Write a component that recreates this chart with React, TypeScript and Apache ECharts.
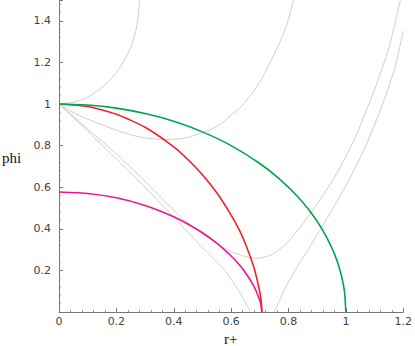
import React, { useEffect, useRef } from "react";
import * as echarts from "echarts";

const xTicks = [0, 0.2, 0.4, 0.6, 0.8, 1, 1.2];
const yTicks = [0.2, 0.4, 0.6, 0.8, 1, 1.2, 1.4];

const greenCurve: number[][] = [
  [0, 1], [0.1, 0.995], [0.2, 0.98], [0.3, 0.954], [0.4, 0.917], [0.5, 0.866],
  [0.6, 0.8], [0.7, 0.714], [0.77, 0.638], [0.83, 0.558], [0.875, 0.484],
  [0.915, 0.403], [0.95, 0.312], [0.97, 0.243], [0.985, 0.172], [0.995, 0.1], [1, 0],
];
const redCurve: number[][] = [
  [0, 1], [0.1, 0.988], [0.2, 0.951], [0.3, 0.888], [0.4, 0.794], [0.45, 0.732],
  [0.5, 0.66], [0.55, 0.573], [0.6, 0.466], [0.63, 0.39], [0.65, 0.327],
  [0.68, 0.212], [0.7, 0.096], [0.705, 0.046], [0.707, 0],
];
const magentaCurve: number[][] = [
  [0, 0.577], [0.1, 0.57], [0.2, 0.549], [0.3, 0.512], [0.4, 0.458], [0.45, 0.422],
  [0.5, 0.381], [0.55, 0.331], [0.6, 0.269], [0.63, 0.225], [0.65, 0.189],
  [0.68, 0.122], [0.7, 0.055], [0.705, 0.027], [0.707, 0],
];
const grayRising: number[][] = [
  [0, 1], [0.04, 1.006], [0.08, 1.02], [0.115, 1.045], [0.145, 1.075], [0.17, 1.105],
  [0.19, 1.135], [0.21, 1.17], [0.227, 1.208], [0.24, 1.243], [0.251, 1.278],
  [0.26, 1.313], [0.267, 1.348], [0.272, 1.383], [0.276, 1.425], [0.279, 1.47],
  [0.281, 1.5],
];
const grayDip: number[][] = [
  [0, 1], [0.05, 0.958], [0.1, 0.927], [0.14, 0.906], [0.2, 0.874], [0.255, 0.85],
  [0.31, 0.835], [0.371, 0.829], [0.42, 0.833], [0.451, 0.84], [0.486, 0.856],
  [0.53, 0.878], [0.566, 0.906], [0.6, 0.945], [0.64, 0.995], [0.681, 1.066],
  [0.71, 1.13], [0.739, 1.209], [0.773, 1.306], [0.796, 1.39], [0.818, 1.5],
];
const grayU: number[][] = [
  [0, 1], [0.1, 0.88], [0.2, 0.76], [0.3, 0.628], [0.37, 0.53], [0.43, 0.45],
  [0.5, 0.375], [0.55, 0.33], [0.6, 0.29], [0.65, 0.266], [0.69, 0.258],
  [0.74, 0.275], [0.79, 0.325], [0.83, 0.39], [0.875, 0.47], [0.955, 0.635],
  [1.03, 0.83], [1.1, 1.07], [1.15, 1.27], [1.19, 1.5],
];
const grayVLeft: number[][] = [
  [0, 1], [0.1, 0.87], [0.2, 0.735], [0.3, 0.6], [0.37, 0.5], [0.43, 0.412],
  [0.5, 0.31], [0.578, 0.2], [0.618, 0.12], [0.645, 0.06], [0.668, 0],
];
const grayVRight: number[][] = [
  [0.75, 0], [0.77, 0.06], [0.79, 0.12], [0.83, 0.216], [0.87, 0.305],
  [0.91, 0.394], [0.96, 0.51], [1.01, 0.633], [1.07, 0.8], [1.133, 1.018],
  [1.17, 1.17], [1.2, 1.35],
];

const grayCurves = [grayRising, grayDip, grayU, grayVLeft, grayVRight];

export default function App() {
  const ref = useRef<HTMLDivElement>(null);
  useEffect(() => {
    if (!ref.current) return;
    const chart = echarts.init(ref.current, null, { renderer: "svg" });
    const axisLabelStyle = {
      fontFamily: "DejaVu Sans",
      fontSize: 11,
      color: "#444",
    };
    const line = (data: number[][], color: string, width: number, z: number) => ({
      type: "line",
      data,
      showSymbol: false,
      smooth: 0.2,
      z,
      lineStyle: { color, width },
      silent: true,
    });
    chart.setOption({
      animation: false,
      grid: { left: 59, right: 8, top: 0, bottom: 34 },
      xAxis: {
        type: "value",
        min: 0,
        max: 1.2,
        interval: 0.2,
        axisLine: { show: true, onZero: false, lineStyle: { color: "#777", width: 1 } },
        axisTick: { show: true, inside: true, length: 4, lineStyle: { color: "#777" } },
        minorTick: { show: true, splitNumber: 5, length: 2, lineStyle: { color: "#999" } },
        splitLine: { show: false },
        axisLabel: {
          ...axisLabelStyle,
          margin: 4,
          formatter: (v: number) => {
            const t = xTicks.find((k) => Math.abs(k - v) < 1e-6);
            return t === undefined ? "" : String(t);
          },
        },
      },
      yAxis: {
        type: "value",
        min: 0,
        max: 1.5,
        interval: 0.2,
        axisLine: { show: true, onZero: false, lineStyle: { color: "#777", width: 1 } },
        axisTick: { show: true, inside: true, length: 4, lineStyle: { color: "#777" } },
        minorTick: { show: true, splitNumber: 5, length: 2, lineStyle: { color: "#999" } },
        splitLine: { show: false },
        axisLabel: {
          ...axisLabelStyle,
          margin: 8,
          showMaxLabel: false,
          formatter: (v: number) => {
            const t = yTicks.find((k) => Math.abs(k - v) < 1e-6);
            return t === undefined ? "" : String(t);
          },
        },
      },
      graphic: [
        {
          type: "text",
          left: 2,
          top: 150,
          style: {
            text: "phi",
            fontFamily: "Liberation Serif",
            fontSize: 15,
            fill: "#111",
          },
        },
        {
          type: "text",
          left: 224,
          top: 331,
          style: {
            text: "r+",
            fontFamily: "Liberation Serif",
            fontSize: 15,
            fill: "#111",
          },
        },
      ],
      series: [
        ...grayCurves.map((c) => line(c, "#cdcdcd", 1, 1)),
        line(magentaCurve, "#ee1590", 1.6, 2),
        line(redCurve, "#f0202a", 1.6, 3),
        line(greenCurve, "#00a552", 1.6, 4),
      ],
    });
    return () => chart.dispose();
  }, []);
  return (
    <div
      ref={ref}
      style={{ position: "fixed", left: 0, top: 0, width: 415, height: 346, background: "#fff" }}
    />
  );
}
